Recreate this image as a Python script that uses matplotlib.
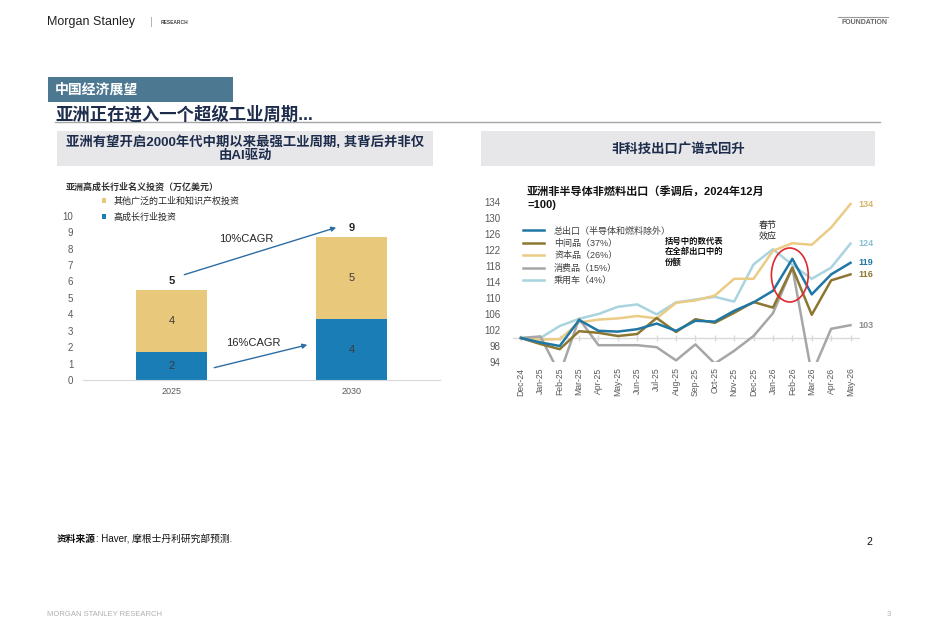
import matplotlib
matplotlib.use("Agg")
import matplotlib.pyplot as plt
from matplotlib.patches import Rectangle, Ellipse
from matplotlib.lines import Line2D

plt.rcParams['font.family'] = ['Liberation Sans', 'Noto Sans CJK SC', 'DejaVu Sans']

# left chart data (trillion USD)
years = ['2025', '2030']
high_growth = [1.72, 3.69]
other_invest = [3.76, 5.03]

# right chart data (index, Dec-2024 = 100)
months = ['Dec-24', 'Jan-25', 'Feb-25', 'Mar-25', 'Apr-25', 'May-25', 'Jun-25', 'Jul-25', 'Aug-25',
          'Sep-25', 'Oct-25', 'Nov-25', 'Dec-25', 'Jan-26', 'Feb-26', 'Mar-26', 'Apr-26', 'May-26']
total = [100, 98.9, 98.0, 104.5, 101.8, 101.6, 102.2, 103.6, 101.8,
         104.3, 104.1, 106.8, 108.9, 111.8, 119.8, 110.9, 115.9, 118.8]
intermediate = [100, 98.5, 97.2, 101.7, 101.3, 100.5, 101.0, 105.0, 101.5,
                104.7, 103.8, 106.3, 109.0, 107.6, 117.6, 105.8, 114.4, 115.9]
capital = [100, 99.6, 99.7, 103.9, 104.6, 104.9, 105.5, 104.9, 108.8,
           109.4, 110.6, 114.8, 114.8, 121.8, 123.7, 123.3, 127.6, 133.5]
consumer = [100, 100.4, 91.0, 104.8, 98.2, 98.2, 98.2, 97.7, 94.4,
            98.4, 93.6, 96.8, 100.5, 106.2, 117.6, 91.0, 102.3, 103.2]
cars = [100, 100.0, 103.0, 104.8, 106.0, 107.8, 108.4, 105.9, 108.9,
        109.6, 110.3, 109.1, 118.4, 122.2, 118.3, 114.8, 117.6, 123.6]

series = [
    ('总出口（半导体和燃料除外）', total, '#1F77A6', '#1F77A6', 5),
    ('中间品（37%）', intermediate, '#8C7630', '#8C7630', 4),
    ('资本品（26%）', capital, '#EBCB85', '#D9B467', 2),
    ('消费品（15%）', consumer, '#A6A6A6', '#8C8C8C', 3),
    ('乘用车（4%）', cars, '#A9D4DF', '#86C0D0', 1),
]

W, H = 936, 644
fig = plt.figure(figsize=(W / 100, H / 100), dpi=100)


def fx(x):
    return x / W


def fy(y):
    return 1 - y / H


navy = '#1F2D4D'
gray_txt = '#595959'

# ---- header ----
fig.text(fx(47), fy(22), 'Morgan Stanley', fontsize=9, color='#222222', va='center')
fig.text(fx(150), fy(22), '|', fontsize=8, color='#AAAAAA', va='center')
fig.text(fx(161), fy(22), 'RESEARCH', fontsize=3.5, color='#444444', va='center', fontweight='bold')
fig.add_artist(Line2D([fx(838), fx(888)], [fy(17), fy(17)], color='#999999', lw=0.8))
fig.text(fx(888), fy(23), 'FOUNDATION', fontsize=5, color='#666666', va='center', ha='right',
         fontweight='bold')

fig.add_artist(Rectangle((fx(48), fy(102)), fx(233) - fx(48), fy(77) - fy(102),
                         transform=fig.transFigure, color='#4D7891', lw=0))
fig.text(fx(55), fy(90), '中国经济展望', fontsize=10, color='white', fontweight='bold', va='center')
fig.text(fx(55), fy(113.5), '亚洲正在进入一个超级工业周期...', fontsize=12.5, color=navy,
         fontweight='bold', va='center')
fig.add_artist(Line2D([fx(55), fx(880)], [fy(121.5), fy(121.5)], color='#A6A6A6', lw=1))

for x0, x1, txt in [(57, 433, '亚洲有望开启2000年代中期以来最强工业周期, 其背后并非仅\n由AI驱动'),
                    (481, 875, '非科技出口广谱式回升')]:
    fig.add_artist(Rectangle((fx(x0), fy(166)), fx(x1) - fx(x0), fy(131) - fy(166),
                             transform=fig.transFigure, color='#E7E7E9', lw=0))
    fig.text(fx((x0 + x1) / 2), fy(149), txt, fontsize=9.6, color=navy, fontweight='bold',
             ha='center', va='center', linespacing=1.1)

# ---- left chart ----
ax1 = fig.add_axes([fx(83), fy(380), fx(440) - fx(83), fy(215.7) - fy(380)])
xs = range(len(years))
b1 = ax1.bar(xs, high_growth, width=0.394, color='#1A7DB5', label='高成长行业投资')
b2 = ax1.bar(xs, other_invest, width=0.394, bottom=high_growth, color='#E8C97C',
             label='其他广泛的工业和知识产权投资')
ax1.bar_label(b1, fmt='{:.0f}', label_type='center', fontsize=8, color='#3A3A3A')
ax1.bar_label(b2, fmt='{:.0f}', label_type='center', fontsize=8, color='#3A3A3A')
totals = [a + b for a, b in zip(high_growth, other_invest)]
ax1.bar_label(b2, labels=[f'{t:.0f}' for t in totals], padding=2.5, fontsize=8,
              fontweight='bold', color='#262626')
ax1.set_xlim(-0.494, 1.489)
ax1.set_ylim(0, 10)
ax1.set_yticks(range(0, 11))
ax1.set_xticks(list(xs))
ax1.set_xticklabels(years)
for s in ['top', 'right', 'left']:
    ax1.spines[s].set_visible(False)
ax1.spines['bottom'].set_color('#D9D9D9')
ax1.tick_params(axis='y', length=0, pad=7, labelsize=7, labelcolor=gray_txt)
ax1.tick_params(axis='x', length=0, pad=5, labelsize=6.5, labelcolor=gray_txt)

arrow = dict(arrowstyle='-|>', color='#2E6DA4', lw=1, mutation_scale=7)
ax1.annotate('', xy=(0.927, 9.33), xytext=(0.054, 6.36), arrowprops=arrow)
ax1.annotate('', xy=(0.767, 2.18), xytext=(0.22, 0.71), arrowprops=arrow)
ax1.text(0.415, 8.6, '10%CAGR', fontsize=8, color='#262626', ha='center', va='center')
ax1.text(0.45, 2.24, '16%CAGR', fontsize=8, color='#262626', ha='center', va='center')

fig.text(fx(66), fy(187), '亚洲高成长行业名义投资（万亿美元）', fontsize=6.5, color='#333333',
         va='center', fontweight='bold')
ax1.legend(handles=[b2, b1], loc='upper left', bbox_to_anchor=(fx(97), fy(192)),
           bbox_transform=fig.transFigure, frameon=False, fontsize=6.5, handlelength=0.55,
           handleheight=0.55, handletextpad=0.8, labelspacing=0.75, borderpad=0,
           labelcolor='#262626')

# ---- right chart ----
ax2 = fig.add_axes([fx(513), fy(362), fx(860) - fx(513), fy(198) - fy(362)])
mx = list(range(len(months)))
handles = []
for name, vals, col, lab_col, z in series:
    ln, = ax2.plot(mx, vals, color=col, lw=1.8, label=name, zorder=z + 2)
    handles.append(ln)
    ax2.annotate(f'{vals[-1]:.0f}', xy=(mx[-1], vals[-1]), xytext=(6, 0),
                 textcoords='offset points', fontsize=6.5, fontweight='bold', color=lab_col,
                 va='center', ha='left', annotation_clip=False)
ax2.axhline(100, color='#D9D9D9', lw=1, zorder=1)
ax2.plot(mx, [100] * len(mx), ls='none', marker='|', ms=4, color='#D9D9D9', zorder=1)
ax2.set_xlim(-0.41, 17.49)
ax2.set_ylim(94, 135)
ax2.set_yticks(range(94, 135, 4))
ax2.set_xticks(mx)
ax2.set_xticklabels(months, rotation=90)
for s in ax2.spines.values():
    s.set_visible(False)
ax2.tick_params(axis='y', length=0, pad=9, labelsize=7, labelcolor=gray_txt)
ax2.tick_params(axis='x', length=0, pad=4, labelsize=6.2, labelcolor=gray_txt)

ax2.add_patch(Ellipse((13.87, 115.75), 1.9, 13.5, fill=False, edgecolor='#E0282E', lw=1.2,
                      zorder=10))

ax2.legend(handles=handles, loc='upper left', bbox_to_anchor=(fx(518), fy(222)),
           bbox_transform=fig.transFigure, frameon=False, fontsize=6.5, handlelength=2.4,
           handletextpad=1.1, labelspacing=0.38, borderpad=0, labelcolor='#404040')

fig.text(fx(527), fy(187), '亚洲非半导体非燃料出口（季调后，2024年12月\n=100)', fontsize=8,
         fontweight='bold', color='#111111', va='top', linespacing=1.2)
fig.text(fx(665), fy(238), '括号中的数代表\n在全部出口中的\n份额', fontsize=6, fontweight='bold',
         color='#111111', va='top', linespacing=1.25)
fig.text(fx(768), fy(221), '春节\n效应', fontsize=6.5, color='#262626', va='top', ha='center',
         linespacing=1.3)

# ---- footer ----
src1 = fig.text(fx(57), fy(539), '资料来源', fontsize=7, fontweight='bold', color='#111111',
                va='center')
fig.canvas.draw()
bb = src1.get_window_extent()
fig.text(bb.x1 / W, fy(539), ': Haver, 摩根士丹利研究部预测.', fontsize=7, color='#111111',
         va='center')
fig.text(fx(866), fy(542), '2', fontsize=7.5, color='#111111', va='center')
fig.text(fx(47), fy(614), 'MORGAN STANLEY RESEARCH', fontsize=5.5, color='#B0B0B0', va='center')
fig.text(fx(887), fy(614), '3', fontsize=5.5, color='#B0B0B0', va='center')

fig.savefig('out.png', dpi=100)
